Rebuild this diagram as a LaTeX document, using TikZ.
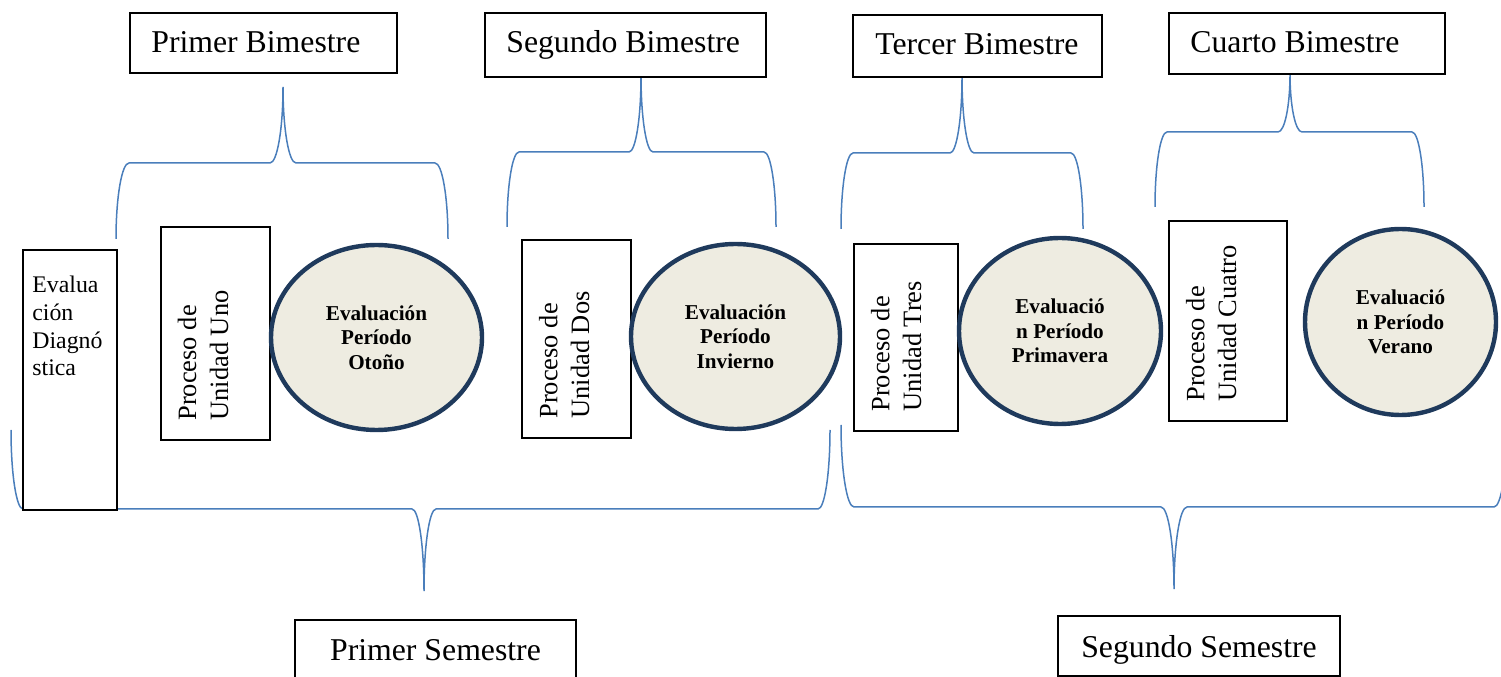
\documentclass[tikz,border=0pt]{standalone}
\usepackage{fontspec}
\setmainfont{Liberation Serif}
\usetikzlibrary{fit,calc,shapes.geometric}
\definecolor{bracecol}{HTML}{4A7EBB}
\definecolor{ellline}{HTML}{1F3A5C}
\definecolor{ellfill}{HTML}{EEECE1}
\def\px{0.5669pt}
% L M R T H B a
\newcommand\mybrace[7]{%
  \draw[brace] (#1,#6) .. controls (#1,{#6+0.552*(#5-#6)}) and ({#1+0.448*#7},#5) .. ({#1+#7},#5)
    -- ({#2-#7},#5) .. controls ({#2-0.448*#7},#5) and (#2,{#4+0.552*(#5-#4)}) .. (#2,#4)
    .. controls (#2,{#4+0.552*(#5-#4)}) and ({#2+0.448*#7},#5) .. ({#2+#7},#5)
    -- ({#3-#7},#5) .. controls ({#3-0.448*#7},#5) and (#3,{#6+0.552*(#5-#6)}) .. (#3,#6);}
\tikzset{
  box/.style={draw=black, line width=1.1pt, fill=white, inner sep=0pt},
  brace/.style={draw=bracecol, line width=0.85pt},
  ell/.style={ellipse, draw=ellline, line width=2.5pt, fill=ellfill, inner sep=0pt,
    font=\fontsize{12}{14}\selectfont\bfseries, align=center},
  lbl/.style={inner sep=0pt, font=\fontsize{18}{21}\selectfont},
  vtext/.style={rotate=90, anchor=north west, inner sep=0pt, align=left,
    font=\fontsize{15}{18.1}\selectfont},
}
\begin{document}
\begin{tikzpicture}[x=0.5669pt, y=-0.5669pt]
\useasboundingbox (0,0) rectangle (1501,677);
% braces
\mybrace{116}{283}{448}{87}{163}{239}{13}
\mybrace{507}{641}{776}{76}{152}{227}{12}
\mybrace{841}{962}{1083}{77}{153}{229}{12}
\mybrace{1155}{1290}{1424}{74}{132}{207}{12}
\mybrace{11}{424}{830}{591}{509}{430}{12}
\mybrace{841}{1174}{1507}{589}{507}{425}{13}
% top label boxes
\node[box, fit={(130,13) (397,73)}] (b1) {};
\node[box, fit={(485,13) (766,77)}] (b2) {};
\node[box, fit={(853,15) (1102,77)}] (b3) {};
\node[box, fit={(1169,13) (1445,74)}] (b4) {};
\node[lbl, anchor=base west] (tb1) at (151,53) {Primer Bimestre};
\node[lbl, anchor=base west] (tb2) at (506,53) {Segundo Bimestre};
\node[lbl, anchor=base west] (tb3) at (875,55) {Tercer Bimestre};
\node[lbl, anchor=base west] (tb4) at (1190,53) {Cuarto Bimestre};
% semester boxes
\node[box, fit={(295,620) (576,700)}] (s1) {};
\node[box, fit={(1058,616) (1340,676)}] (s2) {};
\node[lbl, anchor=base] (ts1) at (435.5,660) {Primer Semestre};
\node[lbl, anchor=base] (ts2) at (1199,657) {Segundo Semestre};
% diagnostic box
\node[box, fit={(23,250) (117,510)}] (diag) {};
\node[anchor=north west, inner sep=0pt, align=left, font=\fontsize{13.5}{15.7}\selectfont]
  (tdiag) at ($(diag.north west)+(10,27)$) {Evalua\\ción\\Diagnó\\stica};
% process boxes
\node[box, fit={(161,227) (270,440)}] (p1) {};
\node[box, fit={(522,240) (631,438)}] (p2) {};
\node[box, fit={(854,244) (958,431)}] (p3) {};
\node[box, fit={(1169,221) (1287,421)}] (p4) {};
\node[vtext] (tp1) at ($(p1.south west)+(17.5,-20)$) {Proceso de\\Unidad Uno};
\node[vtext] (tp2) at ($(p2.south west)+(17.5,-20)$) {Proceso de\\Unidad Dos};
\node[vtext] (tp3) at ($(p3.south west)+(17.5,-20)$) {Proceso de\\Unidad Tres};
\node[vtext] (tp4) at ($(p4.south west)+(17.5,-20)$) {Proceso de\\Unidad Cuatro};
% evaluation ellipses
\node[ell, minimum width={211*\px}, minimum height={185*\px}] (e1) at (376.5,337.5) {Evaluación\\Período\\Otoño};
\node[ell, minimum width={209*\px}, minimum height={185*\px}] (e2) at (735.5,336.5) {Evaluación\\Período\\Invierno};
\node[ell, minimum width={202*\px}, minimum height={186*\px}] (e3) at (1060,331) {Evaluació\\n Período\\Primavera};
\node[ell, minimum width={191*\px}, minimum height={186*\px}] (e4) at (1400.5,322) {Evaluació\\n Período\\Verano};
\end{tikzpicture}
\end{document}
